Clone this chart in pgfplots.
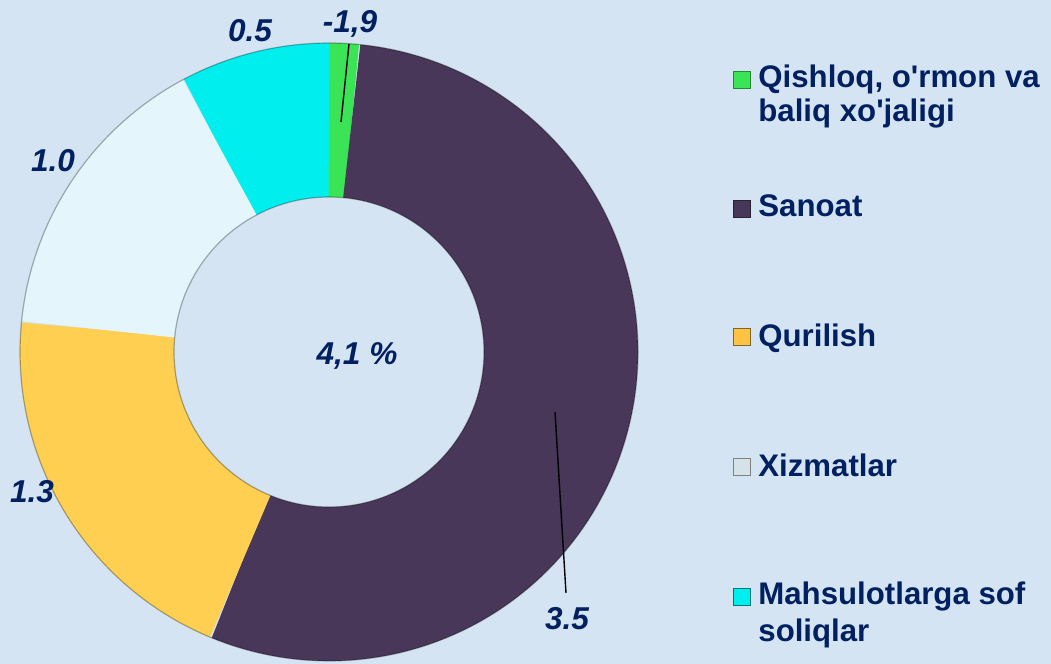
\documentclass[border=0pt]{standalone}
\usepackage{pgfplots}
\usepackage{pgfplotstable}
\pgfplotsset{compat=1.18}
\usepackage{fontspec}
\setmainfont{Liberation Sans}[Ligatures=TeXOff]
\definecolor{bgcol}{RGB}{213,228,243}
\definecolor{navy}{RGB}{0,32,96}
\definecolor{cgreen}{RGB}{58,228,86}
\definecolor{cpurple}{RGB}{72,55,88}
\definecolor{cyellow}{RGB}{254,207,80}
\definecolor{cwhite}{RGB}{228,245,251}
\definecolor{ccyan}{RGB}{0,238,238}
\pgfplotstableread{
share
0.1
3.5
1.3
1.0
0.5
}\piedata
\tikzset{
  lbl/.style={font=\bfseries\itshape\fontsize{15.8}{18}\selectfont, text=navy, inner sep=0pt, anchor=base},
  leg/.style={font=\bfseries\fontsize{15.6}{18}\selectfont, text=navy, inner sep=0pt, anchor=base west},
}
\begin{document}
\begin{tikzpicture}
\pgfplotstablegetelem{0}{share}\of\piedata \let\sA\pgfplotsretval
\pgfplotstablegetelem{1}{share}\of\piedata \let\sB\pgfplotsretval
\pgfplotstablegetelem{2}{share}\of\piedata \let\sC\pgfplotsretval
\pgfplotstablegetelem{3}{share}\of\piedata \let\sD\pgfplotsretval
\pgfplotstablegetelem{4}{share}\of\piedata \let\sE\pgfplotsretval
\pgfmathsetmacro\tot{\sA+\sB+\sC+\sD+\sE}
\pgfmathsetmacro\aA{90}
\pgfmathsetmacro\aB{90-360*\sA/\tot}
\pgfmathsetmacro\aC{\aB-360*\sB/\tot}
\pgfmathsetmacro\aD{\aC-360*\sC/\tot}
\pgfmathsetmacro\aE{\aD-360*\sD/\tot}
\pgfmathsetmacro\aF{\aE-360*\sE/\tot}
\pgfmathsetmacro\aFo{\aF-0.4}
\def\cx{329}\def\cy{312}\def\rm{232}
\begin{axis}[
  x=0.5pt, y=0.5pt, scale only axis,
  xmin=0, xmax=1051, ymin=0, ymax=664,
  enlargelimits=false,
  ticks=none,
  axis line style={draw=none},
  axis background/.style={fill=bgcol},
  clip=true,
]
\addplot[draw=ccyan, line width=77pt, domain=\aFo:\aE, samples=30] ({\cx+\rm*cos(x)},{\cy+\rm*sin(x)});
\addplot[draw=cgreen, line width=77pt, domain=\aB:\aA, samples=20] ({\cx+\rm*cos(x)},{\cy+\rm*sin(x)});
\addplot[draw=cpurple, line width=77pt, domain=\aC:\aB, samples=120] ({\cx+\rm*cos(x)},{\cy+\rm*sin(x)});
\addplot[draw=cyellow, line width=77pt, domain=\aD:\aC, samples=60] ({\cx+\rm*cos(x)},{\cy+\rm*sin(x)});
\addplot[draw=cwhite, line width=77pt, domain=\aE:\aD, samples=50] ({\cx+\rm*cos(x)},{\cy+\rm*sin(x)});
% subtle outlines
\addplot[draw=black, opacity=0.3, line width=0.6pt, domain=0:360, samples=240] ({\cx+309*cos(x)},{\cy+309*sin(x)});
\addplot[draw=black, opacity=0.3, line width=0.6pt, domain=0:360, samples=200] ({\cx+155*cos(x)},{\cy+155*sin(x)});
% leader lines
\addplot[black, line width=0.7pt] coordinates {(349,620) (341,542)};
\addplot[black, line width=0.7pt] coordinates {(555,252) (566,71)};
% data labels
\node[lbl] at (axis cs:250,622) {0.5};
\node[lbl] at (axis cs:350,631) {-1,9};
\node[lbl] at (axis cs:53,492) {1.0};
\node[lbl] at (axis cs:32,161) {1.3};
\node[lbl] at (axis cs:567,34) {3.5};
\node[lbl] at (axis cs:357,299) {4,1 \%};
% legend
\node[leg] at (axis cs:758,576) {Qishloq, o'rmon va};
\node[leg] at (axis cs:758,542) {baliq xo'jaligi};
\node[leg] at (axis cs:758,447) {Sanoat};
\node[leg] at (axis cs:758,317) {Qurilish};
\node[leg] at (axis cs:758,187) {Xizmatlar};
\node[leg] at (axis cs:758,59) {Mahsulotlarga sof};
\node[leg] at (axis cs:758,22) {soliqlar};
\draw[fill=cgreen, draw=cgreen!60!black, line width=0.3pt] (axis cs:733,576) rectangle (axis cs:750,593);
\draw[fill=cpurple, draw=cpurple!60!black, line width=0.3pt] (axis cs:733,447) rectangle (axis cs:750,464);
\draw[fill=cyellow!85!orange, draw=cyellow!50!black, line width=0.3pt] (axis cs:733,319) rectangle (axis cs:750,336);
\draw[fill=cwhite!85!gray, draw=gray, line width=0.3pt] (axis cs:733,189) rectangle (axis cs:750,206);
\draw[fill=ccyan, draw=ccyan!50!black, line width=0.3pt] (axis cs:733,59) rectangle (axis cs:750,76);
\end{axis}
\end{tikzpicture}
\end{document}
